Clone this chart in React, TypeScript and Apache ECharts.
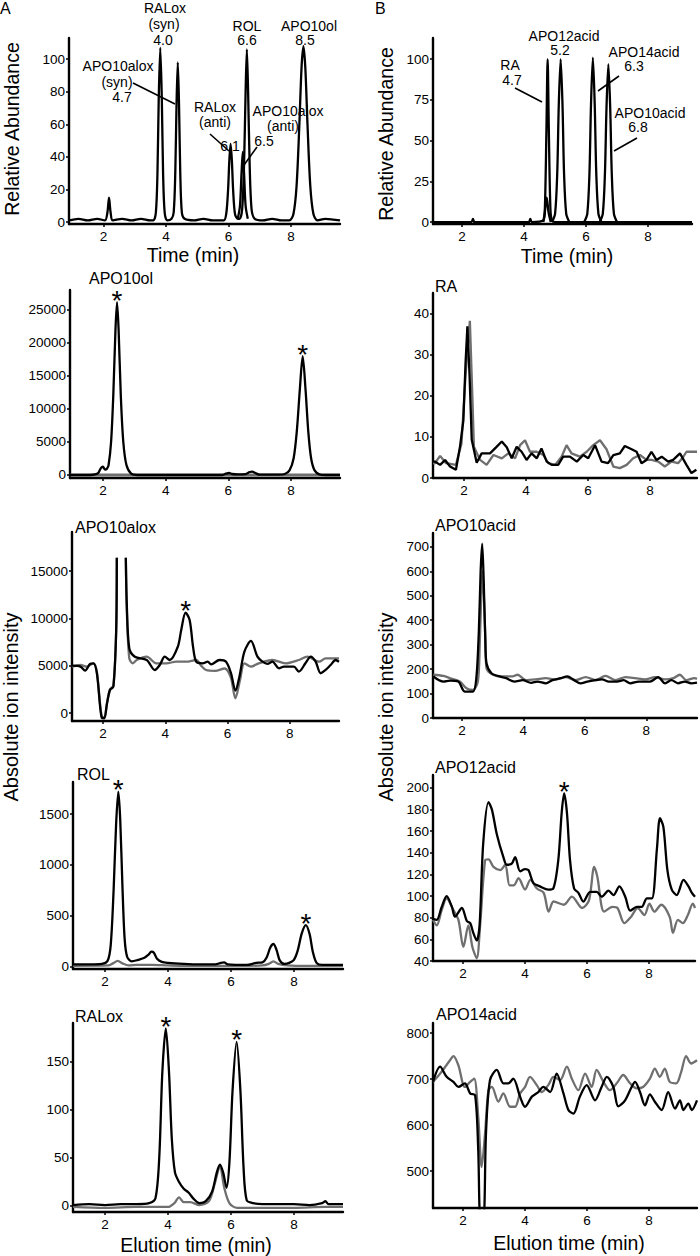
import { useEffect, useRef } from "react";
import * as echarts from "echarts";

const FONT = "'Liberation Sans', Arial, Helvetica, sans-serif";
const BLACK = "#000000";
const GRAY = "#6f6f6f";

// ---------- tick labels ----------
const X_TICKS = [2, 4, 6, 8];
const A1_Y_TICKS = [0, 20, 40, 60, 80, 100];
const B1_Y_TICKS = [0, 25, 50, 75, 100];
const A2_Y_TICKS = [0, 5000, 10000, 15000, 20000, 25000];
const A3_Y_TICKS = [0, 5000, 10000, 15000];
const A4_Y_TICKS = [0, 500, 1000, 1500];
const A5_Y_TICKS = [0, 50, 100, 150];
const B2_Y_TICKS = [0, 10, 20, 30, 40];
const B3_Y_TICKS = [0, 100, 200, 300, 400, 500, 600, 700];
const B4_Y_TICKS = [40, 60, 80, 100, 120, 140, 160, 180, 200];
const B5_Y_TICKS = [500, 600, 700, 800];

// ---------- panel titles ----------
const TITLES = ["APO10ol", "APO10alox", "ROL", "RALox", "RA", "APO10acid", "APO12acid", "APO14acid"];

// ---------- A1: standards (relative abundance) ----------
const A1_TRACE = [[0.9,1],[1.2,2],[1.5,1],[1.8,2],[2.05,1],[2.13,6],[2.18,15],[2.23,6],[2.3,1],[2.6,2],[2.9,1],[3.2,2],[3.5,1],[3.6,1],[3.68,6],[3.73,30],[3.77,75],[3.82,107],[3.87,75],[3.91,30],[3.96,6],[4.04,1],[4.18,2],[4.25,6],[4.3,30],[4.34,72],[4.38,98],[4.42,72],[4.46,30],[4.51,6],[4.6,2],[4.9,1],[5.2,2],[5.5,1],[5.85,1],[5.93,5],[5.99,20],[6.03,38],[6.07,48],[6.11,38],[6.15,20],[6.21,5],[6.3,2],[6.36,2],[6.44,8],[6.5,35],[6.55,80],[6.59,106],[6.63,80],[6.68,35],[6.74,8],[6.84,2],[7.1,1],[7.4,2],[7.7,1],[7.95,1],[8.08,5],[8.18,22],[8.27,60],[8.34,95],[8.4,108],[8.46,95],[8.53,60],[8.62,22],[8.72,5],[8.85,1],[9.1,2],[9.57,1]];
const A1_ANTI = [[6.3,2],[6.37,10],[6.42,30],[6.46,43],[6.5,30],[6.55,10],[6.62,2]];

// ---------- B1: acid standards ----------
const B1_RA = [[1.06,0],[2.3,0],[2.35,2],[2.4,0],[4.15,0],[4.2,2],[4.25,0],[4.62,1],[4.67,8],[4.72,55],[4.76,100],[4.8,55],[4.85,8],[4.9,1],[5.0,0],[9.42,0]];
const B1_RA_SMALL = [[4.62,0],[4.67,6],[4.73,15],[4.79,6],[4.86,0]];
const B1_APO12 = [[4.9,0],[5.0,5],[5.07,30],[5.12,72],[5.18,100],[5.24,72],[5.29,30],[5.36,5],[5.46,0]];
const B1_APO14 = [[5.94,0],[6.04,5],[6.11,30],[6.16,72],[6.22,101],[6.28,72],[6.33,30],[6.4,5],[6.5,0]];
const B1_APO10 = [[6.44,0],[6.54,5],[6.61,30],[6.66,70],[6.72,97],[6.78,70],[6.83,30],[6.9,5],[7.0,0]];

// ---------- A2: APO10ol ----------
const A2_BLACK = [[0.95,0],[1.6,0],[1.75,80],[1.85,300],[1.93,1000],[2.0,1250],[2.07,800],[2.12,900],[2.18,1500],[2.26,5000],[2.33,12000],[2.4,22000],[2.45,26200],[2.5,22000],[2.57,12000],[2.65,5000],[2.75,1500],[2.9,200],[3.1,0],[5.8,0],[5.92,200],[6.02,300],[6.12,150],[6.3,80],[6.55,150],[6.68,450],[6.76,500],[6.86,300],[7.0,50],[7.6,50],[7.8,150],[7.95,700],[8.08,2500],[8.18,6500],[8.28,13000],[8.37,18000],[8.46,13000],[8.55,6500],[8.64,2500],[8.75,700],[8.9,100],[9.1,0],[9.56,0]];
const A2_GRAY = [[0.95,0],[9.56,0]];
const A2_STARS = [[2.45,26200],[8.37,18000]];

// ---------- A3: APO10alox ----------
const A3_BLACK = [[1.0,5000],[1.27,4900],[1.42,4470],[1.58,5180],[1.69,5250],[1.8,4200],[1.96,-530],[2.04,-560],[2.12,900],[2.22,2430],[2.33,2780],[2.42,8770],[2.44,16400],[2.6,null],[2.73,16400],[2.76,11600],[2.84,6840],[3.02,5950],[3.4,5600],[3.66,4540],[3.82,5070],[3.98,5950],[4.14,5600],[4.4,7000],[4.51,8770],[4.65,10600],[4.78,9830],[4.89,7000],[4.99,5420],[5.2,5250],[5.36,5420],[5.47,5140],[5.74,5600],[5.95,5420],[6.11,4200],[6.25,2360],[6.38,3840],[6.54,6480],[6.75,7610],[6.96,5950],[7.12,5420],[7.28,5180],[7.44,5420],[7.65,4720],[7.81,4900],[7.97,4900],[8.13,4900],[8.29,4370],[8.5,5250],[8.67,5950],[8.83,5420],[8.99,4200],[9.15,4550],[9.31,5070],[9.47,5600],[9.58,5420]];
const A3_GRAY = [[1.0,4900],[1.27,5070],[1.48,4900],[1.69,5250],[1.8,4300],[1.96,-400],[2.04,-450],[2.12,1000],[2.22,2500],[2.33,2900],[2.42,8700],[2.44,16400],[2.6,null],[2.73,16400],[2.76,11000],[2.84,5800],[2.95,5250],[3.08,5600],[3.4,5950],[3.71,5250],[4.03,5250],[4.35,5420],[4.67,5420],[4.99,5600],[5.15,5000],[5.31,4540],[5.6,4450],[5.9,4700],[6.1,3800],[6.25,1550],[6.4,3500],[6.54,5250],[6.75,4900],[7.0,5250],[7.44,5600],[7.86,5250],[8.29,5600],[8.56,5950],[8.94,5420],[9.15,5770],[9.58,5770]];
const A3_STARS = [[4.65,10600]];

// ---------- A4: ROL ----------
const A4_BLACK = [[0.98,25],[1.5,25],[1.9,30],[2.08,60],[2.18,220],[2.27,750],[2.35,1400],[2.42,1720],[2.48,1450],[2.55,800],[2.62,280],[2.7,100],[2.85,55],[3.05,70],[3.25,90],[3.38,120],[3.47,150],[3.55,140],[3.65,80],[3.8,50],[4.0,40],[4.5,30],[5.0,25],[5.5,25],[5.68,40],[5.78,45],[5.9,25],[6.5,20],[6.8,40],[7.0,45],[7.13,90],[7.25,190],[7.35,225],[7.45,165],[7.55,65],[7.7,30],[7.85,40],[8.0,70],[8.12,160],[8.25,330],[8.38,410],[8.5,320],[8.6,150],[8.72,40],[8.9,20],[9.2,20],[9.56,20]];
const A4_GRAY = [[0.98,12],[2.1,15],[2.25,35],[2.4,60],[2.55,35],[2.75,15],[3.0,20],[3.5,20],[4.0,15],[5.0,10],[6.0,10],[7.0,15],[7.2,30],[7.35,55],[7.5,30],[7.8,15],[8.4,10],[9.56,10]];
const A4_STARS = [[2.42,1720],[8.38,410]];

// ---------- A5: RALox ----------
const A5_BLACK = [[0.98,1],[1.5,2],[2.0,1],[2.5,2],[3.0,2],[3.4,3],[3.6,8],[3.72,50],[3.82,140],[3.93,185],[4.03,140],[4.12,70],[4.22,35],[4.35,25],[4.5,18],[4.65,14],[4.8,8],[5.0,3],[5.2,5],[5.4,15],[5.55,35],[5.65,43],[5.75,35],[5.86,19],[5.95,45],[6.05,120],[6.18,171],[6.3,120],[6.4,40],[6.5,6],[6.7,3],[7.0,2],[7.5,2],[8.0,2],[8.5,1],[8.9,3],[9.0,5],[9.1,2],[9.56,2]];
const A5_GRAY = [[0.98,-1],[2.0,-2],[3.0,-1],[4.0,-1],[4.2,3],[4.35,9],[4.5,4],[4.7,4],[5.0,1],[5.3,5],[5.5,25],[5.65,42],[5.78,20],[5.95,3],[6.2,-2],[7.0,-2],[8.0,-2],[9.0,-1],[9.56,-1]];
const A5_STARS = [[3.93,185],[6.18,171]];

// ---------- B2: RA ----------
const B2_BLACK = [[1.0,4],[1.06,4],[1.23,3.2],[1.39,4.4],[1.55,2.8],[1.74,2],[1.87,7.6],[1.98,14],[2.05,28],[2.11,37],[2.18,25],[2.25,9.3],[2.41,3.7],[2.57,6],[2.84,6],[3.05,7.6],[3.22,8.9],[3.38,7.5],[3.54,4.8],[3.7,7.6],[3.86,6.4],[4.02,4.4],[4.18,6],[4.35,4.8],[4.5,7.2],[4.67,4],[4.83,3.2],[5.04,3.2],[5.2,5.2],[5.42,5.2],[5.64,4],[5.85,5.6],[6.01,4.8],[6.23,8],[6.44,4],[6.65,3.6],[6.82,5.6],[7.03,6],[7.19,7.8],[7.41,7],[7.57,6.4],[7.73,3.6],[7.89,4.4],[8.05,6.4],[8.21,4.4],[8.38,5.2],[8.59,4],[8.75,4.4],[8.97,6],[9.18,3.2],[9.34,1.2],[9.5,2]];
const B2_GRAY = [[1.0,3.6],[1.06,3.6],[1.23,5.4],[1.42,3.6],[1.74,3.2],[1.92,8.4],[2.05,25],[2.19,38.3],[2.27,20],[2.32,7.6],[2.52,4.4],[2.73,3.2],[2.95,5.6],[3.22,4.8],[3.43,6],[3.65,4.8],[3.81,8],[3.97,9.2],[4.13,6.4],[4.35,6.4],[4.56,5.6],[4.72,3.6],[4.94,3.2],[5.15,5.2],[5.31,8],[5.47,6],[5.74,5.2],[5.96,6.4],[6.17,8],[6.39,9.2],[6.6,7],[6.82,2.8],[7.03,2.4],[7.25,3.2],[7.46,4.8],[7.68,5.6],[7.89,4.4],[8.05,4.4],[8.27,4],[8.48,2.8],[8.7,4],[8.91,3.6],[9.08,5.2],[9.18,6.4],[9.52,6.4]];

// ---------- B3: APO10acid ----------
const B3_BLACK = [[1.07,170],[1.4,149],[1.61,153],[1.88,149],[2.1,108],[2.36,108],[2.47,163],[2.55,350],[2.61,600],[2.66,713],[2.71,560],[2.76,330],[2.8,224],[2.96,183],[3.17,172],[3.44,163],[3.71,149],[3.98,155],[4.25,144],[4.46,149],[4.73,142],[4.95,155],[5.22,163],[5.43,170],[5.65,155],[5.86,142],[6.08,149],[6.35,155],[6.56,158],[6.78,149],[7.05,149],[7.26,155],[7.48,142],[7.75,149],[7.96,149],[8.12,149],[8.39,167],[8.61,142],[8.82,155],[9.03,142],[9.25,149],[9.46,142],[9.65,145]];
const B3_GRAY = [[1.07,177],[1.4,172],[1.61,163],[1.93,149],[2.15,122],[2.36,115],[2.52,149],[2.58,300],[2.63,500],[2.67,600],[2.72,480],[2.77,300],[2.8,204],[3.01,177],[3.33,170],[3.65,170],[3.81,177],[4.08,155],[4.41,158],[4.73,163],[5.05,158],[5.37,167],[5.7,155],[6.03,167],[6.35,155],[6.67,172],[7.0,155],[7.32,167],[7.64,163],[7.96,158],[8.28,167],[8.61,158],[8.88,163],[9.09,177],[9.3,155],[9.57,163],[9.65,160]];

// ---------- B4: APO12acid ----------
const B4_BLACK = [[1.03,79],[1.15,78],[1.31,90],[1.47,100],[1.64,90],[1.74,81],[1.96,89],[2.12,77],[2.23,75],[2.33,66],[2.44,59],[2.53,72],[2.65,149],[2.82,187],[2.93,180],[3.09,157],[3.3,136],[3.41,129],[3.57,130],[3.68,136],[3.84,123],[4.0,125],[4.11,124],[4.27,112],[4.48,109],[4.75,106],[4.91,107],[5.07,133],[5.18,177],[5.26,195],[5.35,177],[5.45,133],[5.58,107],[5.72,103],[5.88,95],[6.1,104],[6.31,104],[6.47,99.5],[6.69,105],[6.85,101],[7.04,109],[7.23,99.5],[7.39,86.5],[7.6,90],[7.76,90],[7.93,98],[8.09,98],[8.25,143],[8.35,172],[8.46,164],[8.59,124],[8.73,106],[8.89,101],[9.11,115],[9.27,109],[9.38,103],[9.48,99.5]];
const B4_GRAY = [[1.03,78],[1.15,73],[1.31,87],[1.47,98],[1.69,87],[1.85,78],[2.01,53],[2.17,73],[2.3,53],[2.44,42.5],[2.55,73],[2.71,133],[2.82,134],[2.98,127],[3.2,124],[3.36,129],[3.5,110],[3.63,110],[3.79,116.5],[4.0,106],[4.17,115],[4.38,107],[4.6,103],[4.76,85.6],[4.92,95],[5.25,92],[5.51,99.5],[5.84,89],[6.06,96],[6.23,127],[6.33,118],[6.55,85.6],[6.82,90],[6.98,89],[7.2,75],[7.42,81],[7.63,89],[7.85,82.5],[8.01,93],[8.17,85.6],[8.39,92],[8.66,81],[8.77,66],[8.93,78],[9.09,75],[9.25,82.5],[9.41,93],[9.48,89]];
const B4_STARS = [[5.26,195]];

// ---------- B5: APO14acid ----------
const B5_BLACK = [[1.03,694],[1.26,727],[1.47,705],[1.69,694],[1.85,683],[2.06,691],[2.23,669],[2.39,665],[2.49,546],[2.56,400],[2.66,400],[2.74,582],[2.87,698],[3.09,720],[3.3,691],[3.46,691],[3.62,701],[3.84,662],[4.0,640],[4.22,662],[4.43,672],[4.59,683],[4.81,672],[5.02,712],[5.24,669],[5.4,633],[5.56,625],[5.77,662],[5.99,687],[6.26,654],[6.47,683],[6.64,705],[6.85,683],[7.01,641],[7.23,654],[7.44,683],[7.55,694],[7.71,672],[7.87,643],[8.03,667],[8.19,651],[8.41,633],[8.62,672],[8.84,636],[9.0,654],[9.11,633],[9.27,647],[9.38,633],[9.55,654]];
const B5_GRAY = [[1.03,694],[1.26,712],[1.58,741],[1.69,750],[1.85,730],[2.06,683],[2.23,694],[2.36,701],[2.49,618],[2.6,509],[2.71,582],[2.82,676],[2.93,683],[3.14,651],[3.3,669],[3.52,640],[3.68,640],[3.84,669],[4.0,683],[4.16,705],[4.38,687],[4.54,672],[4.75,687],[4.92,705],[5.13,698],[5.35,727],[5.51,701],[5.72,676],[5.94,712],[6.15,683],[6.31,720],[6.53,694],[6.74,676],[6.96,691],[7.17,709],[7.39,691],[7.6,680],[7.81,683],[8.03,701],[8.19,723],[8.35,705],[8.51,723],[8.67,694],[8.88,691],[9.04,716],[9.2,750],[9.36,734],[9.55,741]];

type S = { data: (number | null)[][]; color: string; width?: number; smooth?: number; stars?: number[][] };
type Panel = { rect: number[]; x: number[]; y: number[]; yTicks: number[]; series: S[] };

const PANELS: Panel[] = [
  { rect: [69, 38, 271, 186], x: [0.9, 9.57], y: [-1.2, 113], yTicks: A1_Y_TICKS,
    series: [{ data: A1_ANTI, color: BLACK, smooth: 0.3 }, { data: A1_TRACE, color: BLACK, smooth: 0.3 }] },
  { rect: [70, 290, 270, 188], x: [0.95, 9.56], y: [-455, 28030], yTicks: A2_Y_TICKS,
    series: [{ data: A2_GRAY, color: GRAY, width: 3 }, { data: A2_BLACK, color: BLACK, smooth: 0.3, stars: A2_STARS }] },
  { rect: [72, 532, 267, 189], x: [1.0, 9.58], y: [-845, 19120], yTicks: A3_Y_TICKS,
    series: [{ data: A3_GRAY, color: GRAY, smooth: 0.3 }, { data: A3_BLACK, color: BLACK, smooth: 0.3, stars: A3_STARS }] },
  { rect: [73, 782, 270, 187], x: [0.98, 9.56], y: [-20, 1814], yTicks: A4_Y_TICKS,
    series: [{ data: A4_GRAY, color: GRAY, smooth: 0.3 }, { data: A4_BLACK, color: BLACK, smooth: 0.3, stars: A4_STARS }] },
  { rect: [73, 1023, 270, 189], x: [0.98, 9.56], y: [-6.25, 190.6], yTicks: A5_Y_TICKS,
    series: [{ data: A5_GRAY, color: GRAY, smooth: 0.3 }, { data: A5_BLACK, color: BLACK, smooth: 0.3, stars: A5_STARS }] },
  { rect: [433, 38, 259, 186], x: [1.06, 9.42], y: [-1.2, 113], yTicks: B1_Y_TICKS,
    series: [{ data: B1_RA_SMALL, color: BLACK, smooth: 0.3 }, { data: B1_RA, color: BLACK, smooth: 0.3 }, { data: B1_APO12, color: BLACK, smooth: 0.3 }, { data: B1_APO14, color: BLACK, smooth: 0.3 }, { data: B1_APO10, color: BLACK, smooth: 0.3 }] },
  { rect: [433, 293, 264, 185], x: [1.0, 9.52], y: [0, 45.1], yTicks: B2_Y_TICKS,
    series: [{ data: B2_GRAY, color: GRAY }, { data: B2_BLACK, color: BLACK }] },
  { rect: [433, 533, 264, 185], x: [1.06, 9.65], y: [0, 757], yTicks: B3_Y_TICKS,
    series: [{ data: B3_GRAY, color: GRAY, smooth: 0.3 }, { data: B3_BLACK, color: BLACK, smooth: 0.3 }] },
  { rect: [433, 775, 262, 186], x: [1.03, 9.48], y: [40, 212], yTicks: B4_Y_TICKS,
    series: [{ data: B4_GRAY, color: GRAY, smooth: 0.3 }, { data: B4_BLACK, color: BLACK, smooth: 0.3, stars: B4_STARS }] },
  { rect: [433, 1023, 264, 185], x: [1.03, 9.55], y: [420, 822], yTicks: B5_Y_TICKS,
    series: [{ data: B5_GRAY, color: GRAY, smooth: 0.3 }, { data: B5_BLACK, color: BLACK, smooth: 0.3 }] },
];

const TITLE_POS = [[89, 278], [75, 527], [77, 774], [75, 1016], [435, 286], [435, 525], [435, 767], [436, 1014]];

function txt(text: string, x: number, y: number, size: number, align = "center", rotation = 0) {
  return {
    type: "text", x, y, rotation, silent: true,
    style: { text, fill: BLACK, fontSize: size, fontFamily: FONT, align, verticalAlign: "middle" },
  };
}
function seg(x1: number, y1: number, x2: number, y2: number) {
  return { type: "line", silent: true, shape: { x1, y1, x2, y2 }, style: { stroke: BLACK, lineWidth: 1.6 } };
}

const plain = (v: number) => String(v);

export default function App() {
  const ref = useRef<HTMLDivElement>(null);
  useEffect(() => {
    if (!ref.current) return;
    const chart = echarts.init(ref.current, null, { renderer: "svg" });
    const grid = PANELS.map((p) => ({ left: p.rect[0], top: p.rect[1], width: p.rect[2], height: p.rect[3] }));
    const xAxis = PANELS.map((p, i) => ({
      type: "value", gridIndex: i, min: p.x[0], max: p.x[1],
      axisLine: { show: true, onZero: false, lineStyle: { color: BLACK, width: 2.4 } },
      axisTick: { show: true, customValues: X_TICKS, length: 3, lineStyle: { color: BLACK, width: 1.5 } },
      axisLabel: { show: true, customValues: X_TICKS, formatter: plain, color: BLACK, fontSize: 13.5, fontFamily: FONT, margin: 5 },
      splitLine: { show: false },
    }));
    const yAxis = PANELS.map((p, i) => ({
      type: "value", gridIndex: i, min: p.y[0], max: p.y[1],
      axisLine: { show: true, onZero: false, lineStyle: { color: BLACK, width: 2.4 } },
      axisTick: { show: true, customValues: p.yTicks, length: 3, lineStyle: { color: BLACK, width: 1.5 } },
      axisLabel: { show: true, customValues: p.yTicks, formatter: plain, color: BLACK, fontSize: 13.5, fontFamily: FONT, margin: 4 },
      splitLine: { show: false },
    }));
    const series: any[] = [];
    PANELS.forEach((p, i) => {
      p.series.forEach((s, k) => {
        series.push({
          type: "line", xAxisIndex: i, yAxisIndex: i, data: s.data,
          showSymbol: false, symbol: "none", smooth: s.smooth ?? false, connectNulls: false,
          lineStyle: { color: s.color, width: s.width ?? 2.3 }, itemStyle: { color: s.color },
          z: 2 + k, silent: true,
          markPoint: s.stars ? {
            symbol: "circle", symbolSize: 1, silent: true,
            itemStyle: { color: "rgba(0,0,0,0)" },
            label: { show: true, position: "inside", formatter: "*", fontSize: 28, lineHeight: 12, color: BLACK, fontFamily: FONT, offset: [0, -2] },
            data: s.stars.map((c) => ({ coord: c })),
          } : undefined,
        });
      });
    });
    const graphic: any[] = [
      txt("A", 0, 8, 16, "left"),
      txt("B", 375, 8, 16, "left"),
      // A1 annotations
      txt("RALox", 165, 8, 14), txt("(syn)", 164, 23.5, 14), txt("4.0", 163, 40, 14),
      txt("APO10alox", 118, 66, 14), txt("(syn)", 117, 82, 14), txt("4.7", 122, 97, 14),
      seg(133, 83, 175, 104),
      txt("ROL", 247, 26, 14), txt("6.6", 247, 40, 14),
      txt("APO10ol", 309, 26, 14), txt("8.5", 305, 40, 14),
      txt("RALox", 215, 107, 14), txt("(anti)", 215, 122, 14), txt("6.1", 230, 146, 14),
      seg(210, 134, 229, 151),
      txt("APO10alox", 288, 111, 14), txt("(anti)", 283, 126, 14), txt("6.5", 264, 141, 14),
      seg(257, 147, 244, 165),
      // B1 annotations
      txt("APO12acid", 564, 36, 14), txt("5.2", 560, 50, 14),
      txt("RA", 510, 65, 14), txt("4.7", 512, 79.5, 14),
      seg(515, 88, 542, 102),
      txt("APO14acid", 644, 51.5, 14), txt("6.3", 634, 66, 14),
      seg(619, 76, 598, 91),
      txt("APO10acid", 650, 113, 14), txt("6.8", 638, 127, 14),
      seg(637, 138, 614, 151),
      // axis titles
      txt("Time (min)", 193, 255, 19.5), txt("Time (min)", 567, 256, 19.5),
      txt("Elution time (min)", 196, 1245, 19.5), txt("Elution time (min)", 569, 1243, 19.5),
      txt("Relative Abundance", 12, 129, 19.5, "center", Math.PI / 2),
      txt("Relative Abundance", 386, 134, 19.5, "center", Math.PI / 2),
      txt("Absolute ion intensity", 11, 707, 20, "center", Math.PI / 2),
      txt("Absolute ion intensity", 386, 707, 20, "center", Math.PI / 2),
    ];
    TITLES.forEach((t, i) => graphic.push(txt(t, TITLE_POS[i][0], TITLE_POS[i][1], 16, "left")));
    chart.setOption({
      animation: false,
      backgroundColor: "#ffffff",
      textStyle: { fontFamily: FONT },
      grid, xAxis, yAxis, series, graphic,
    });
    return () => chart.dispose();
  }, []);
  return <div ref={ref} style={{ position: "absolute", left: 0, top: 0, width: 700, height: 1256 }} />;
}
